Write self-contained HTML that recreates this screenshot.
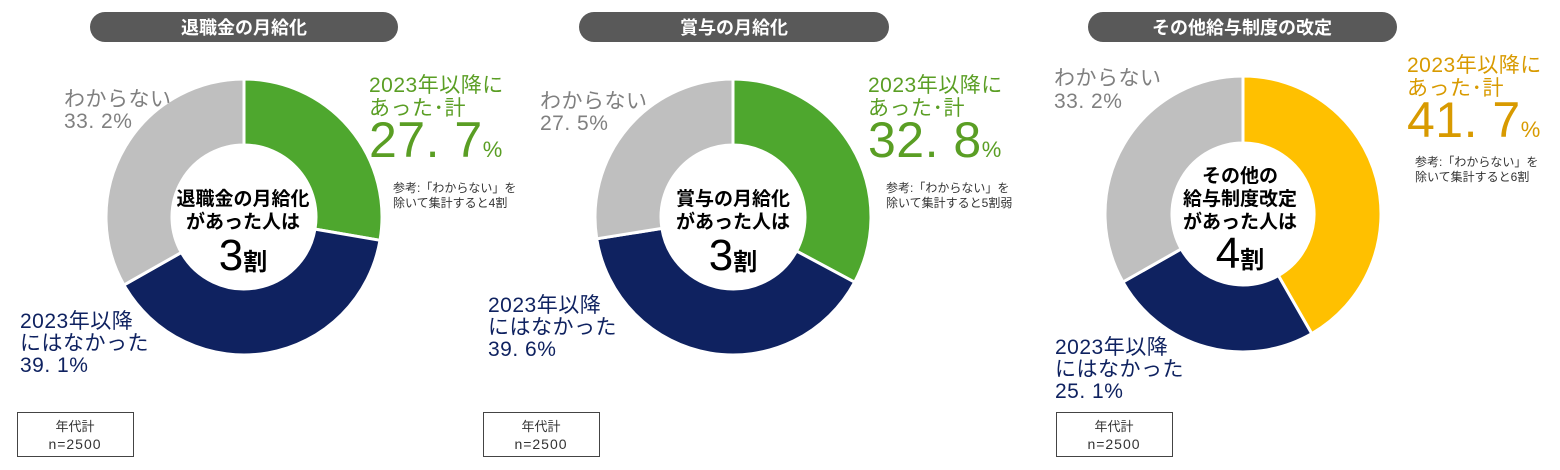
<!DOCTYPE html>
<html><head><meta charset="utf-8"><style>
body{margin:0;background:#fff;}
svg{display:block;font-family:"Liberation Sans","Noto Sans CJK JP",sans-serif;}
.b{font-weight:bold;}
.m{font-weight:normal;letter-spacing:0.5px;}
</style></head><body>
<svg id="s" width="1560" height="470" viewBox="0 0 1560 470" xmlns="http://www.w3.org/2000/svg">
<rect width="1560" height="470" fill="#fff"/>
<g id="donuts"></g>
<rect x="90" y="12" width="308" height="30" rx="15" fill="#595959"/>
<text x="244" y="34" text-anchor="middle" font-size="18" fill="#fff" class="b">退職金の月給化</text>
<rect x="579" y="12" width="310" height="30" rx="15" fill="#595959"/>
<text x="734" y="34" text-anchor="middle" font-size="18" fill="#fff" class="b">賞与の月給化</text>
<rect x="1088" y="12" width="309" height="30" rx="15" fill="#595959"/>
<text x="1242" y="34" text-anchor="middle" font-size="18" fill="#fff" class="b">その他給与制度の改定</text>

<g class="m" font-size="21">
<text x="369" y="92" fill="#5a9e24">2023年以降に</text>
<text x="369" y="115" fill="#5a9e24">あった･計</text>
<text x="369" y="157" fill="#5a9e24" font-size="50">27. 7<tspan font-size="22">%</tspan></text>
<text x="64" y="106" fill="#808080">わからない</text>
<text x="64" y="128" fill="#808080">33. 2%</text>
<text x="20" y="328" fill="#0f2260">2023年以降</text>
<text x="20" y="350" fill="#0f2260">にはなかった</text>
<text x="20" y="372" fill="#0f2260">39. 1%</text>
</g>
<text x="393" y="192" font-size="12" fill="#333">参考:「わからない」を</text>
<text x="393" y="207" font-size="12" fill="#333">除いて集計すると4割</text>
<g class="b" text-anchor="middle" fill="#000">
<text x="243" y="205" font-size="19">退職金の月給化</text>
<text x="243" y="228" font-size="19">があった人は</text>
<text x="243" y="270"><tspan font-size="44" font-weight="normal">3</tspan><tspan font-size="24">割</tspan></text>
</g>
<rect x="17.5" y="412.5" width="116" height="44" fill="#fff" stroke="#444"/>
<text x="75" y="431" text-anchor="middle" font-size="13" fill="#333">年代計</text>
<text x="75" y="449" text-anchor="middle" font-size="14" fill="#333" letter-spacing="1">n=2500</text>

<g class="m" font-size="21">
<text x="868" y="92" fill="#5a9e24">2023年以降に</text>
<text x="868" y="115" fill="#5a9e24">あった･計</text>
<text x="868" y="157" fill="#5a9e24" font-size="50">32. 8<tspan font-size="22">%</tspan></text>
<text x="540" y="108" fill="#808080">わからない</text>
<text x="540" y="130" fill="#808080">27. 5%</text>
<text x="488" y="312" fill="#0f2260">2023年以降</text>
<text x="488" y="334" fill="#0f2260">にはなかった</text>
<text x="488" y="356" fill="#0f2260">39. 6%</text>
</g>
<text x="886" y="192" font-size="12" fill="#333">参考:「わからない」を</text>
<text x="886" y="207" font-size="12" fill="#333">除いて集計すると5割弱</text>
<g class="b" text-anchor="middle" fill="#000">
<text x="733" y="205" font-size="19">賞与の月給化</text>
<text x="733" y="228" font-size="19">があった人は</text>
<text x="733" y="270"><tspan font-size="44" font-weight="normal">3</tspan><tspan font-size="24">割</tspan></text>
</g>
<rect x="483.5" y="412.5" width="116" height="44" fill="#fff" stroke="#444"/>
<text x="541" y="431" text-anchor="middle" font-size="13" fill="#333">年代計</text>
<text x="541" y="449" text-anchor="middle" font-size="14" fill="#333" letter-spacing="1">n=2500</text>

<g class="m" font-size="21">
<text x="1407" y="72" fill="#d89a00">2023年以降に</text>
<text x="1407" y="95" fill="#d89a00">あった･計</text>
<text x="1407" y="137" fill="#d89a00" font-size="50">41. 7<tspan font-size="22">%</tspan></text>
<text x="1054" y="85" fill="#808080">わからない</text>
<text x="1054" y="108" fill="#808080">33. 2%</text>
<text x="1055" y="354" fill="#0f2260">2023年以降</text>
<text x="1055" y="376" fill="#0f2260">にはなかった</text>
<text x="1055" y="398" fill="#0f2260">25. 1%</text>
</g>
<text x="1415" y="166" font-size="12" fill="#333">参考:「わからない」を</text>
<text x="1415" y="181" font-size="12" fill="#333">除いて集計すると6割</text>
<g class="b" text-anchor="middle" fill="#000">
<text x="1240" y="182" font-size="19">その他の</text>
<text x="1240" y="205" font-size="19">給与制度改定</text>
<text x="1240" y="228" font-size="19">があった人は</text>
<text x="1240" y="268"><tspan font-size="44" font-weight="normal">4</tspan><tspan font-size="24">割</tspan></text>
</g>
<rect x="1056.5" y="412.5" width="116" height="44" fill="#fff" stroke="#444"/>
<text x="1114" y="431" text-anchor="middle" font-size="13" fill="#333">年代計</text>
<text x="1114" y="449" text-anchor="middle" font-size="14" fill="#333" letter-spacing="1">n=2500</text>
</svg>
<script>
(function(){
var g=document.getElementById('donuts');
var charts=[
 {cx:244,cy:217,R:138,r:72,v:[27.7,39.1,33.2],c:['#4ea72e','#0f2260','#bfbfbf']},
 {cx:733,cy:217,R:138,r:72,v:[32.8,39.6,27.5],c:['#4ea72e','#0f2260','#bfbfbf']},
 {cx:1243,cy:214,R:138,r:71,v:[41.7,25.1,33.2],c:['#ffc000','#0f2260','#bfbfbf']}
];
function pt(cx,cy,rad,a){return [cx+rad*Math.sin(a),cy-rad*Math.cos(a)];}
charts.forEach(function(ch){
 var tot=ch.v.reduce(function(a,b){return a+b;},0),a0=0;
 ch.v.forEach(function(v,i){
  var a1=a0+v/tot*2*Math.PI,lg=(a1-a0)>Math.PI?1:0;
  var p1=pt(ch.cx,ch.cy,ch.R,a0),p2=pt(ch.cx,ch.cy,ch.R,a1),p3=pt(ch.cx,ch.cy,ch.r,a1),p4=pt(ch.cx,ch.cy,ch.r,a0);
  var d='M'+p1+' A'+ch.R+','+ch.R+' 0 '+lg+' 1 '+p2+' L'+p3+' A'+ch.r+','+ch.r+' 0 '+lg+' 0 '+p4+' Z';
  var p=document.createElementNS('http://www.w3.org/2000/svg','path');
  p.setAttribute('d',d);p.setAttribute('fill',ch.c[i]);p.setAttribute('stroke','#fff');p.setAttribute('stroke-width','3');
  g.appendChild(p);a0=a1;
 });
});
})();
</script>
</body></html>
